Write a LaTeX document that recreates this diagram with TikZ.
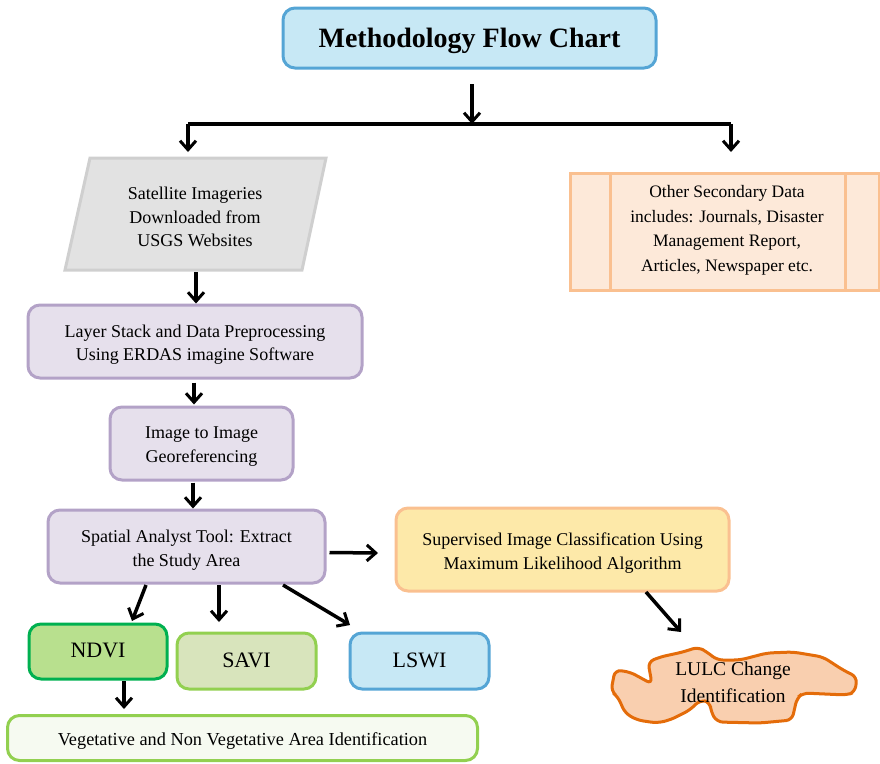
\documentclass[tikz,border=0pt]{standalone}
\usepackage{fontspec}
\setmainfont{Liberation Serif}
\usetikzlibrary{arrows.meta}
\definecolor{tblue}{HTML}{C7E8F5}
\definecolor{sblue}{HTML}{55A5D5}
\definecolor{gfill}{HTML}{E2E2E2}
\definecolor{gline}{HTML}{CFCFCF}
\definecolor{pfill}{HTML}{E6E0EC}
\definecolor{pline}{HTML}{B3A2C7}
\definecolor{yfill}{HTML}{FDE9A9}
\definecolor{oline}{HTML}{FAC090}
\definecolor{ofill}{HTML}{FDE9D9}
\definecolor{nfill}{HTML}{B8E08E}
\definecolor{nline}{HTML}{00B050}
\definecolor{sfill}{HTML}{D8E4BC}
\definecolor{lgreen}{HTML}{92D050}
\definecolor{vfill}{HTML}{F6FAF1}
\definecolor{lfill}{HTML}{F9CFAF}
\definecolor{lline}{HTML}{E46C0A}
\begin{document}
\begin{tikzpicture}[x=1pt,y=-1pt,
  txt/.style={font=\fontsize{18}{23.5}\selectfont, align=center, inner sep=0pt},
  box/.style={rounded corners=12pt, line width=3pt, inner sep=0pt},
  arr/.style={line width=3.5pt, -{Straight Barb[length=9pt,width=16pt,line width=3pt]}},
  bus/.style={line width=4pt}]
\useasboundingbox (0,0) rectangle (880,763);

% title
\node[box, draw=sblue, fill=tblue, minimum width=373pt, minimum height=60pt] (title) at (469.5,38) {};
\node[txt, font=\fontsize{28}{32}\selectfont\bfseries] (titletxt) at ([yshift=-3pt]title.center) {Methodology Flow Chart};

% bus
\coordinate (bl) at (188,124);
\coordinate (br) at (731,124);
\coordinate (bm) at (472,124);
\draw[arr] (472,84) -- (bm);
\draw[bus] (bl) -- (br);
\draw[arr] (bl) -- (188,152);
\draw[arr] (br) -- (731,152);

% satellite parallelogram
\draw[draw=gline, fill=gfill, line width=3pt] (90,158) -- (326,158) -- (302,270) -- (65,270) -- cycle;
\node[txt] (sat) at (195,217) {Satellite Imageries\\Downloaded from\\USGS Websites};

% other secondary data
\draw[draw=oline, fill=ofill, line width=3pt] (570,173) rectangle (879,290);
\draw[draw=oline, line width=3pt] (610,173) -- (610,290) (845,173) -- (845,290);
\node[txt, font=\fontsize{17.5}{24.5}\selectfont] (sec) at (727,230.5) {Other Secondary Data\\includes: Journals, Disaster\\Management Report,\\Articles, Newspaper etc.};

% layer stack
\node[box, draw=pline, fill=pfill, minimum width=334pt, minimum height=73pt] (lay) at (195,341.5) {};
\node[txt] (laytxt) at ([yshift=-3pt]lay.center) {Layer Stack and Data Preprocessing\\Using ERDAS imagine Software};
\draw[arr] (196,272) -- (lay.north -| 196,0);

% image to image
\node[box, draw=pline, fill=pfill, minimum width=183pt, minimum height=73pt] (img) at (201.5,443.5) {};
\node[txt] (imgtxt) at ([yshift=-3pt]img.center) {Image to Image\\Georeferencing};
\draw[arr] (lay.south -| 194,0) ++(0,3) -- ++(0,22);

% spatial analyst
\node[box, draw=pline, fill=pfill, minimum width=277pt, minimum height=73pt] (spa) at (186.5,546.5) {};
\node[txt] (spatxt) at ([yshift=-3.5pt]spa.center) {Spatial Analyst Tool: Extract\\the Study Area};
\draw[arr] (img.south -| 193,0) ++(0,1) -- ++(0,26);

% supervised
\node[box, draw=oline, fill=yfill, minimum width=333pt, minimum height=83pt] (sup) at (562.5,549.5) {};
\node[txt] (suptxt) at ([yshift=-3.5pt]sup.center) {Supervised Image Classification Using\\Maximum Likelihood Algorithm};
\draw[arr] (spa.east) ++(3,6) -- (378,553);

% indices
\node[box, draw=nline, fill=nfill, minimum width=138pt, minimum height=55pt,
  font=\fontsize{22}{26}\selectfont, text depth=2pt] (ndvi) at (98,651.5) {NDVI};
\node[box, draw=lgreen, fill=sfill, minimum width=139pt, minimum height=56pt,
  font=\fontsize{22}{26}\selectfont, text depth=2pt] (savi) at (246.5,661) {SAVI};
\node[box, draw=sblue, fill=tblue, minimum width=139pt, minimum height=56pt,
  font=\fontsize{22}{26}\selectfont, text depth=2pt] (lswi) at (419.5,661) {LSWI};
\draw[arr] (146,585) -- (132,621);
\draw[arr] (219,585) -- (219,622);
\draw[arr] (283,585) -- (350,625);

% vegetative
\node[box, draw=lgreen, fill=vfill, minimum width=470pt, minimum height=45pt] (veg) at (242.5,738) {};
\node[txt, font=\fontsize{18.3}{22}\selectfont] (vegtxt) at ([yshift=-3.5pt]veg.center)
  {Vegetative and Non Vegetative Area Identification};
\draw[arr] (124,681) -- (124,709);

% LULC blob
\draw[draw=lline, fill=lfill, line width=3pt, rounded corners=6pt]
  (611,691) -- (615,670) -- (630,672) -- (641,678) -- (652,684) -- (648,662) -- (660,657)
  -- (683,652) -- (698,647) -- (707,652) -- (717,660) -- (740,660) -- (767,653) -- (793,652)
  -- (823,657) -- (843,670) -- (857,677) -- (855,692) -- (847,695) -- (803,693) -- (797,698)
  -- (792,720) -- (760,723) -- (717,722) -- (711,712) -- (710,702) -- (700,700) -- (690,710)
  -- (670,720) -- (657,723) -- (637,720) -- (625,713) -- (618,697) -- cycle;
\node[txt, font=\fontsize{19.5}{27}\selectfont] (lulc) at (733,682.5) {LULC Change\\Identification};
\draw[arr] (646,592) -- (681,632);
\end{tikzpicture}
\end{document}
